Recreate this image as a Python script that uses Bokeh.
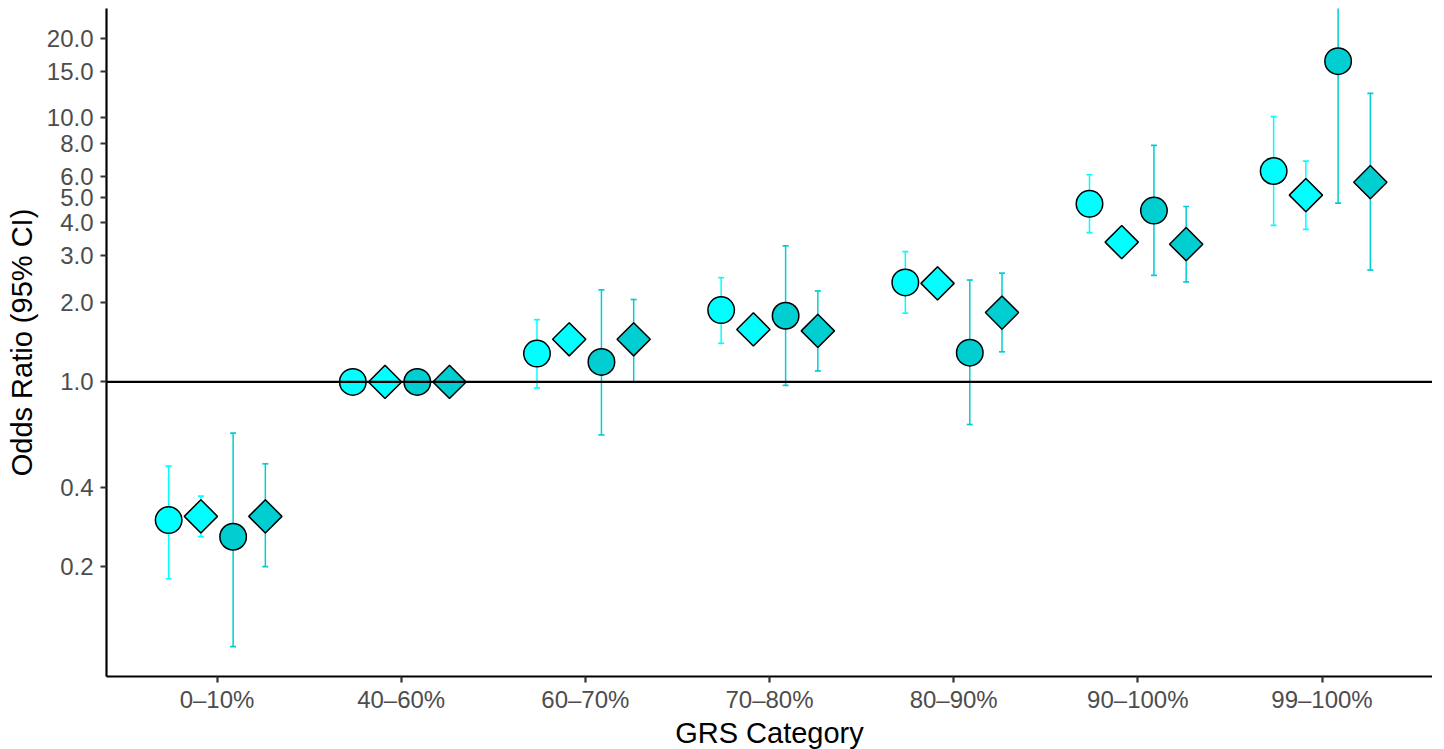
import numpy as np
from bokeh.plotting import figure
from bokeh.models import ColumnDataSource, FixedTicker, PrintfTickFormatter, Span, Range1d
from bokeh.transform import dodge
from bokeh.embed import file_html
from bokeh.resources import INLINE

# ---------------- data ----------------
categories = ["0–10%", "40–60%", "60–70%", "70–80%", "80–90%", "90–100%", "99–100%"]

# series 1: cyan circles
s1_or = [0.300, 1.0, 1.28, 1.87, 2.38, 4.72, 6.28]
s1_lo = [0.180, 1.0, 0.949, 1.40, 1.82, 3.67, 3.91]
s1_hi = [0.480, 1.0, 1.72, 2.48, 3.11, 6.08, 10.08]

# series 2: cyan diamonds
s2_or = [0.310, 1.0, 1.45, 1.58, 2.36, 3.38, 5.09]
s2_lo = [0.260, 1.0, 1.36, 1.49, 2.22, 3.18, 3.78]
s2_hi = [0.370, 1.0, 1.55, 1.68, 2.51, 3.59, 6.85]

# series 3: dark turquoise circles
s3_or = [0.2595, 1.0, 1.19, 1.78, 1.29, 4.45, 16.35]
s3_lo = [0.0996, 1.0, 0.63, 0.97, 0.69, 2.53, 4.75]
s3_hi = [0.640, 1.0, 2.23, 3.27, 2.43, 7.85, 56.0]

# series 4: dark turquoise diamonds
s4_or = [0.310, 1.0, 1.45, 1.56, 1.83, 3.32, 5.70]
s4_lo = [0.200, 1.0, 1.00, 1.10, 1.30, 2.39, 2.65]
s4_hi = [0.490, 1.0, 2.05, 2.21, 2.58, 4.61, 12.35]

y_ticks = [0.2, 0.4, 1.0, 2.0, 3.0, 4.0, 5.0, 6.0, 8.0, 10.0, 15.0, 20.0]

# ---------------- layout / style ----------------
x_idx = list(range(1, len(categories) + 1))
dodge_width = 0.7
n_series = 4
offsets = [(-dodge_width / 2) + dodge_width / n_series * (i + 0.5) for i in range(n_series)]

FONT = "Liberation Sans"
CYAN = "#00FFFF"
DARK = "#00CED1"

p = figure(
    frame_width=1326, frame_height=668,
    x_range=Range1d(0.4, 7.6), y_range=Range1d(0.0768, 25.88),
    y_axis_type="log",
    output_backend="svg", toolbar_location=None,
    min_border_left=106, min_border_right=0, min_border_top=8, min_border_bottom=65,
    background_fill_color="white", border_fill_color="white",
)
p.outline_line_color = None
p.xgrid.visible = False
p.ygrid.visible = False

series = [
    (s1_or, s1_lo, s1_hi, "circle", CYAN),
    (s2_or, s2_lo, s2_hi, "diamond", CYAN),
    (s3_or, s3_lo, s3_hi, "circle", DARK),
    (s4_or, s4_lo, s4_hi, "diamond", DARK),
]

for (orv, lo, hi, shape, col), off in zip(series, offsets):
    src = ColumnDataSource(dict(x=x_idx, orv=orv, lo=lo, hi=hi))
    xd = dodge("x", off, range=p.x_range)
    p.segment(x0=xd, y0="lo", x1=xd, y1="hi", source=src, line_color=col, line_width=1.5)
    p.scatter(x=xd, y="lo", source=src, marker="dash", size=6, line_color=col, line_width=1.7)
    p.scatter(x=xd, y="hi", source=src, marker="dash", size=6, line_color=col, line_width=1.7)

for (orv, lo, hi, shape, col), off in zip(series, offsets):
    src = ColumnDataSource(dict(x=x_idx, orv=orv, lo=lo, hi=hi))
    xd = dodge("x", off, range=p.x_range)
    if shape == "circle":
        p.scatter(x=xd, y="orv", source=src, marker="circle", size=26.5,
                  fill_color=col, line_color="black", line_width=1.5)
    else:
        p.scatter(x=xd, y="orv", source=src, marker="square", angle=np.pi / 4, size=23.5,
                  fill_color=col, line_color="black", line_width=1.5)

p.add_layout(Span(location=1.0, dimension="width", line_color="black", line_width=2.2))

# axes
for ax in (p.xaxis[0], p.yaxis[0]):
    ax.axis_line_color = "black"
    ax.axis_line_width = 2.2
    ax.major_tick_line_color = "#333333"
    ax.major_tick_line_width = 2.2
    ax.major_tick_out = 6
    ax.major_tick_in = 0
    ax.minor_tick_line_color = None
    ax.major_label_text_font = FONT
    ax.major_label_text_font_size = "24px"
    ax.major_label_text_color = "#4D4D4D"
    ax.axis_label_text_font = FONT
    ax.axis_label_text_font_size = "29px"
    ax.axis_label_text_font_style = "normal"
    ax.axis_label_text_color = "black"

p.xaxis.ticker = FixedTicker(ticks=x_idx)
p.xaxis.major_label_overrides = {i: c for i, c in zip(x_idx, categories)}
p.xaxis.axis_label = "GRS Category"
p.xaxis.major_label_standoff = 3
p.xaxis.axis_label_standoff = 1

p.yaxis.ticker = FixedTicker(ticks=y_ticks)
p.yaxis.formatter = PrintfTickFormatter(format="%.1f")
p.yaxis.axis_label = "Odds Ratio (95% CI)"
p.yaxis.major_label_standoff = 7
p.yaxis.axis_label_standoff = 6

open("out.html", "w").write(file_html(p, INLINE))
